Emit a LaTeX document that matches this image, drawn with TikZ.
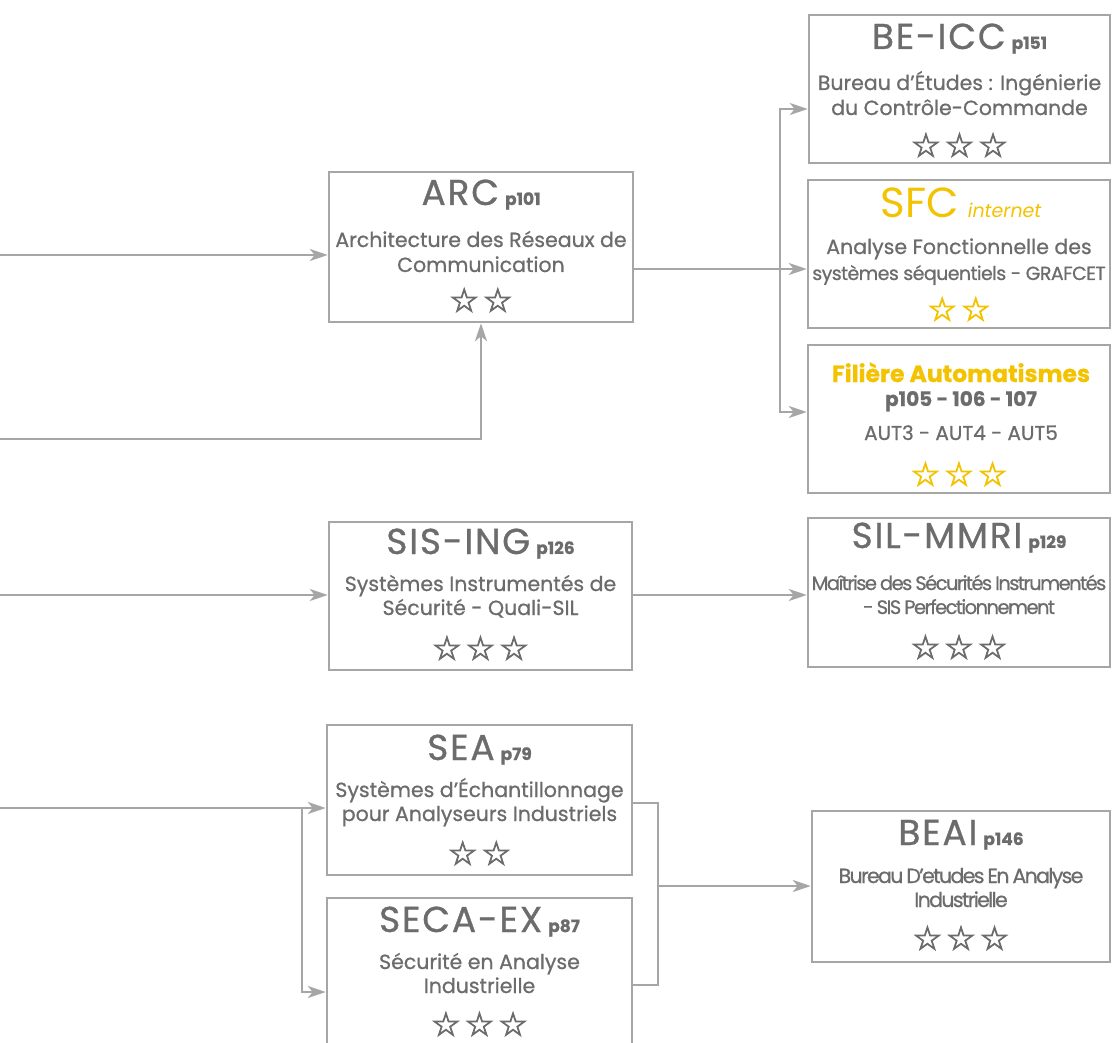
\documentclass[tikz,border=0pt]{standalone}
\usepackage{fontspec}
\setmainfont{Poppins}
\newfontfamily\starfont{DejaVu Sans}[FakeBold=2.5]
\usetikzlibrary{arrows.meta}
\definecolor{ln}{RGB}{166,166,166}
\definecolor{txt}{RGB}{108,108,108}
\definecolor{yel}{RGB}{243,194,0}
\newcommand{\ttl}[1]{{\fontsize{36}{36}\selectfont\addfontfeature{LetterSpace=5}#1}}
\newcommand{\pg}[1]{{\fontsize{17}{17}\selectfont\bfseries #1}}
\newcommand{\cond}{\addfontfeature{LetterSpace=-8}\spaceskip=3pt}
\tikzset{
  box/.style={draw=ln, line width=2.5pt, rectangle, inner sep=0pt},
  lbl/.style={anchor=base, inner sep=0pt, text=txt, font=\fontsize{20.5}{22}\selectfont\addfontfeature{FakeBold=0.8}},
  stars/.style={anchor=center, inner sep=0pt, text=txt, font=\starfont\fontsize{33}{33}\selectfont\bfseries},
  conn/.style={draw=ln, line width=2.5pt, line join=miter},
  arr/.style={conn, -{Stealth[length=18pt,width=12pt,inset=5pt]}}
}
\begin{document}
\begin{tikzpicture}[x=1pt,y=1pt]
\useasboundingbox (0,0) rectangle (1112,-1043);
% boxes
\node[box, minimum width=301pt, minimum height=148pt] (becc) at (959.5,-89) {};
\node[box, minimum width=302pt, minimum height=148pt] (sfc) at (959,-254) {};
\node[box, minimum width=302pt, minimum height=148pt] (fil) at (959,-419) {};
\node[box, minimum width=304pt, minimum height=150pt] (arc) at (481,-247) {};
\node[box, minimum width=303pt, minimum height=148pt] (sis) at (480.5,-596) {};
\node[box, minimum width=302pt, minimum height=149pt] (sil) at (959,-592.5) {};
\node[box, minimum width=305pt, minimum height=150pt] (sea) at (479.5,-800) {};
\node[box, minimum width=305pt, minimum height=150pt] (secax) at (479.5,-973) {};
\node[box, minimum width=298pt, minimum height=151pt] (beai) at (961,-886.5) {};
% BE-ICC
\node[lbl] (becc-t) at (959.5,-49) {\ttl{BE-ICC}\hspace{6pt}\pg{p151}};
\node[lbl] (becc-b1) at (959.5,-90) {Bureau d’Études : Ingénierie};
\node[lbl] (becc-b2) at (959.5,-115) {du Contrôle-Commande};
\node[stars] (becc-s) at (959.5,-145) {☆\hspace{4pt}☆\hspace{4pt}☆};
% SFC
\node[lbl, text=yel] (sfc-t) at (961,-218) {{\fontsize{42}{42}\selectfont\addfontfeature{FakeBold=0}SFC}\hspace{9pt}{\fontsize{19}{19}\selectfont\itshape\addfontfeature{FakeBold=0}internet}};
\node[lbl] (sfc-b1) at (959,-254) {Analyse Fonctionnelle des};
\node[lbl] (sfc-b2) at (959,-280) {\fontsize{19}{20}\selectfont\addfontfeature{LetterSpace=-3}systèmes séquentiels - GRAFCET};
\node[stars, text=yel] (sfc-s) at (959,-309) {☆\hspace{4pt}☆};
% Filiere
\node[lbl, text=yel] (fil-t) at (961,-382) {\fontsize{23.5}{24}\selectfont\bfseries Filière Automatismes};
\node[lbl] (fil-p) at (961,-406) {\fontsize{20}{20}\selectfont\bfseries p105 - 106 - 107};
\node[lbl] (fil-a) at (961,-440) {\fontsize{20}{20}\selectfont AUT3 - AUT4 - AUT5};
\node[stars, text=yel] (fil-s) at (959,-474) {☆\hspace{4pt}☆\hspace{4pt}☆};
% ARC
\node[lbl] (arc-t) at (481,-205) {\ttl{ARC}\hspace{6pt}\pg{p101}};
\node[lbl] (arc-b1) at (481,-247) {Architecture des Réseaux de};
\node[lbl] (arc-b2) at (481,-272) {Communication};
\node[stars] (arc-s) at (481,-300) {☆\hspace{4pt}☆};
% SIS-ING
\node[lbl] (sis-t) at (480.5,-554) {\ttl{SIS-ING}\hspace{6pt}\pg{p126}};
\node[lbl] (sis-b1) at (480.5,-591) {Systèmes Instrumentés de};
\node[lbl] (sis-b2) at (480.5,-615) {Sécurité - Quali-SIL};
\node[stars] (sis-s) at (480.5,-648) {☆\hspace{4pt}☆\hspace{4pt}☆};
% SIL-MMRI
\node[lbl] (sil-t) at (959,-548) {\ttl{SIL-MMRI}\hspace{6pt}\pg{p129}};
\node[lbl] (sil-b1) at (959,-590) {\fontsize{19.5}{20}\selectfont\cond Maîtrise des Sécurités Instrumentés};
\node[lbl] (sil-b2) at (959,-614) {\fontsize{19.5}{20}\selectfont\cond - SIS Perfectionnement};
\node[stars] (sil-s) at (959,-647) {☆\hspace{4pt}☆\hspace{4pt}☆};
% SEA
\node[lbl] (sea-t) at (479.5,-760) {\ttl{SEA}\hspace{6pt}\pg{p79}};
\node[lbl] (sea-b1) at (479.5,-797) {Systèmes d’Échantillonnage};
\node[lbl] (sea-b2) at (479.5,-821) {pour Analyseurs Industriels};
\node[stars] (sea-s) at (479.5,-853) {☆\hspace{4pt}☆};
% SECA-EX
\node[lbl] (secax-t) at (479.5,-932) {\ttl{SECA-EX}\hspace{6pt}\pg{p87}};
\node[lbl] (secax-b1) at (479.5,-969) {Sécurité en Analyse};
\node[lbl] (secax-b2) at (479.5,-993) {Industrielle};
\node[stars] (secax-s) at (479.5,-1024) {☆\hspace{4pt}☆\hspace{4pt}☆};
% BEAI
\node[lbl] (beai-t) at (961,-845) {\ttl{BEAI}\hspace{6pt}\pg{p146}};
\node[lbl] (beai-b1) at (961,-883) {\cond Bureau D’etudes En Analyse};
\node[lbl] (beai-b2) at (961,-907) {\cond Industrielle};
\node[stars] (beai-s) at (961,-938) {☆\hspace{4pt}☆\hspace{4pt}☆};
% connector coordinates
\coordinate (l1) at (0,-255);
\coordinate (l2) at (0,-439);
\coordinate (l3) at (0,-595);
\coordinate (l4) at (0,-808);
\coordinate (a1) at (780,-109);
\coordinate (a2) at (780,-269);
\coordinate (a3) at (780,-412);
\coordinate (b1) at (302,-808);
\coordinate (b2) at (302,-992);
\coordinate (m1) at (658,-803);
\coordinate (m2) at (658,-985);
\coordinate (r1) at (658,-886);
% connectors
\draw[arr] (l1) -- (l1 -| arc.west);
\draw[arr] (l2) -| (arc.south);
\draw[conn] (arc.east |- a2) -- (a2);
\draw[arr] (a2) |- (a1 -| becc.west);
\draw[arr] (a2) |- (a3 -| fil.west);
\draw[arr] (a2) -- (a2 -| sfc.west);
\draw[arr] (l3) -- (l3 -| sis.west);
\draw[arr] (sis.east |- l3) -- (l3 -| sil.west);
\draw[arr] (l4) -- (l4 -| sea.west);
\draw[arr] (b1) |- (b2 -| secax.west);
\draw[conn] (m1 -| sea.east) -- (m1) -- (m2) -- (m2 -| secax.east);
\draw[arr] (r1) -- (r1 -| beai.west);
\end{tikzpicture}
\end{document}
